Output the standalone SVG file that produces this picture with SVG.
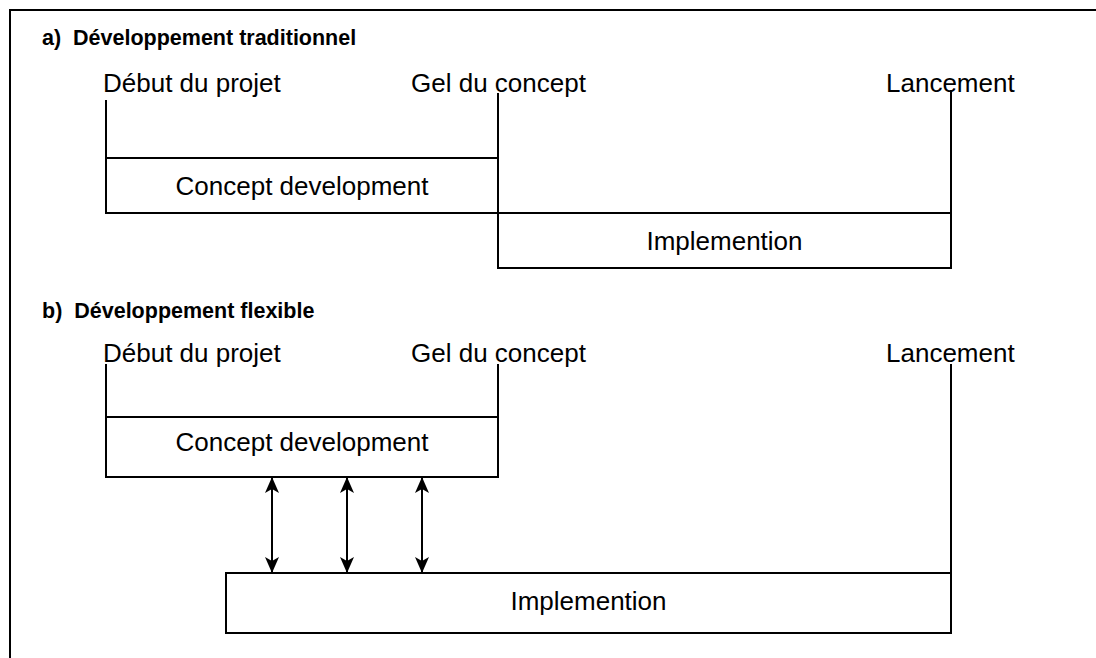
<svg xmlns="http://www.w3.org/2000/svg" width="1096" height="658" viewBox="0 0 1096 658">
<defs>
<style>
.frame{fill:none;stroke:#000;stroke-width:2}
.box{fill:none;stroke:#000;stroke-width:2}
.ms{fill:none;stroke:#000;stroke-width:2}
.arr{fill:none;stroke:#000;stroke-width:2;marker-start:url(#head);marker-end:url(#head)}
.title{font-family:"Liberation Sans",Arial,sans-serif;font-weight:bold;font-size:21.5px;fill:#000}
.lbl{font-family:"Liberation Sans",Arial,sans-serif;font-size:26px;fill:#000}
.mid{text-anchor:middle}
</style>
<marker id="head" viewBox="0 0 16 16" refX="15" refY="8" markerWidth="16" markerHeight="16" markerUnits="userSpaceOnUse" orient="auto-start-reverse">
<path d="M0,1 L16,8 L0,15 L4,8 Z" fill="#000"/>
</marker>
</defs>
<rect width="1096" height="658" fill="#fff"/>
<path class="frame" d="M10,660 V10 H1098"/>
<g id="section-a">
<text id="title-a" class="title" x="42" y="45" xml:space="preserve">a)  Développement traditionnel</text>
<g id="ms-a-debut"><text class="lbl" x="103" y="92">Début du projet</text></g>
<g id="ms-a-gel"><text class="lbl" x="411" y="92">Gel du concept</text></g>
<g id="ms-a-lancement"><text class="lbl" x="886" y="92">Lancement</text></g>
<g id="concept-a"><rect class="box" x="106" y="158" width="392" height="55"/><text class="lbl mid" x="302" y="195">Concept development</text></g>
<g id="impl-a"><rect class="box" x="498" y="213" width="453" height="55"/><text class="lbl mid" x="724.5" y="250">Implemention</text></g>
</g>
<g id="section-b">
<text id="title-b" class="title" x="42" y="318" xml:space="preserve">b)  Développement flexible</text>
<g id="ms-b-debut"><text class="lbl" x="103" y="362">Début du projet</text></g>
<g id="ms-b-gel"><text class="lbl" x="411" y="362">Gel du concept</text></g>
<g id="ms-b-lancement"><text class="lbl" x="886" y="362">Lancement</text></g>
<g id="concept-b"><rect class="box" x="106" y="417" width="392" height="60"/><text class="lbl mid" x="302" y="451">Concept development</text></g>
<g id="impl-b"><rect class="box" x="226" y="573" width="725" height="60"/><text class="lbl mid" x="588.5" y="610">Implemention</text></g>
</g>
<g id="connectors">
<path class="ms" d="M106,100 V158"/>
<path class="ms" d="M498,93 V158"/>
<path class="ms" d="M951,90 V213"/>
<path class="ms" d="M106,364 V417"/>
<path class="ms" d="M498,364 V417"/>
<path class="ms" d="M951,364 V573"/>
<path class="arr" d="M272,478 V572"/>
<path class="arr" d="M347,478 V572"/>
<path class="arr" d="M422,478 V572"/>
</g>
</svg>
